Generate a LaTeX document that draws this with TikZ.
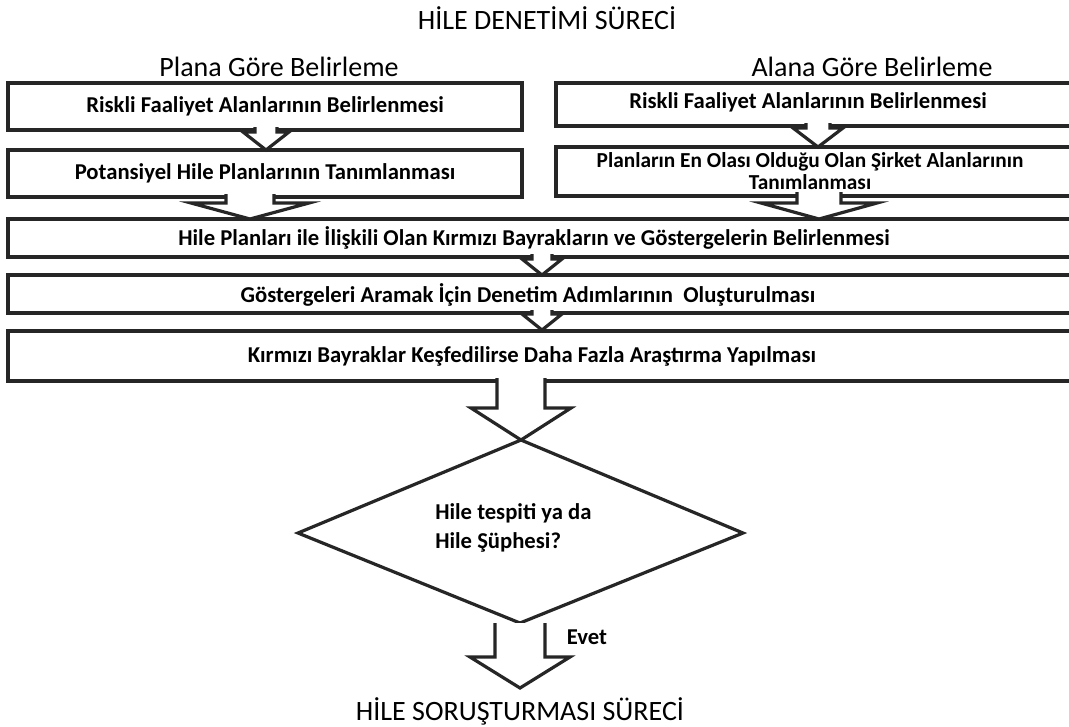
\documentclass[tikz,border=0pt]{standalone}
\usepackage{fontspec}
\setmainfont{Carlito}
\usetikzlibrary{calc}
\definecolor{ln}{HTML}{262626}
\tikzset{
  box/.style={draw=ln, line width=2.4pt, fill=white, inner sep=0pt, align=center,
    font=\fontsize{17}{16.5}\selectfont\bfseries},
  arr/.style={draw=ln, line width=2.4pt, line join=miter},
  ttl/.style={inner sep=0pt, font=\fontsize{21}{24}\selectfont},
  sub/.style={inner sep=0pt, font=\fontsize{21}{24}\selectfont},
  btxt/.style={inner sep=0pt, font=\fontsize{17}{22}\selectfont\bfseries},
  twol/.style={inner sep=0pt, align=center, font=\fontsize{16}{16.8}\selectfont\bfseries},
}
% block arrow: cx, ytop, ybase, ytip, shaft half width, head half width
\newcommand\blockarr[6]{%
  \fill[white] (#1-#5,#2) -- (#1-#5,#3) -- (#1-#6,#3) -- (#1,#4) -- (#1+#6,#3) -- (#1+#5,#3) -- (#1+#5,#2) -- cycle;
  \draw[arr] (#1-#5,#2) -- (#1-#5,#3) -- (#1-#6,#3) -- (#1,#4) -- (#1+#6,#3) -- (#1+#5,#3) -- (#1+#5,#2);
}
\begin{document}
\begin{tikzpicture}[x=0.75pt,y=-0.75pt]
\useasboundingbox (0,0) rectangle (1069,726);
\clip (0,0) rectangle (1069,726);
\fill[white] (0,0) rectangle (1069,726);

\node[ttl] (title) at (547,18) {HİLE DENETİMİ SÜRECİ};
\node[sub] (pl) at (279,67) {Plana Göre Belirleme};
\node[sub] (al) at (872,67) {Alana Göre Belirleme};

% left column
\node[box, minimum width=385.5pt, minimum height=35.25pt] (lb1) at (265,106.5) {Riskli Faaliyet Alanlarının Belirlenmesi};
\node[box, minimum width=385.5pt, minimum height=35.25pt] (lb2) at (265,173.5) {Potansiyel Hile Planlarının Tanımlanması};
% right column
\node[box, minimum width=389.25pt, minimum height=32.25pt] (rb1) at (815.5,104.5) {};
\node[btxt] (rb1t) at (808,102) {Riskli Faaliyet Alanlarının Belirlenmesi};
\node[box, minimum width=389.25pt, minimum height=36.75pt] (rb2) at (815.5,171.5) {};
\node[twol] (rb2t) at (810,171) {Planların En Olası Olduğu Olan Şirket Alanlarının\\Tanımlanması};
% wide boxes
\node[box, minimum width=800.25pt, minimum height=28.5pt] (w1) at (541.5,238) {};
\node[btxt] (w1t) at (534,238) {Hile Planları ile İlişkili Olan Kırmızı Bayrakların ve Göstergelerin Belirlenmesi};
\node[box, minimum width=800.25pt, minimum height=28.5pt] (w2) at (541.5,294) {};
\node[btxt] (w2t) at (528,295) {Göstergeleri Aramak İçin Denetim Adımlarının\ \ Oluşturulması};
\node[box, minimum width=800.25pt, minimum height=37.5pt] (w3) at (541.5,356) {};
\node[btxt] (w3t) at (532,356) {Kırmızı Bayraklar Keşfedilirse Daha Fazla Araştırma Yapılması};

% connectors (block arrows)
\blockarr{266}{127}{132}{150}{11}{23}
\blockarr{818}{123}{128}{147}{12}{25}
\blockarr{250}{194}{203}{219}{24}{59}
\blockarr{819}{192}{203}{219}{22}{58}
\blockarr{542}{254}{259}{275}{10}{20}
\blockarr{542}{310}{314}{330}{10}{20}
\blockarr{521}{378}{408}{440}{24}{50}

% decision
\coordinate (dT) at (521,440);
\coordinate (dR) at (743,533);
\coordinate (dB) at (520,623);
\coordinate (dL) at (298,533);
\draw[arr] (dT) -- (dR) -- (dB) -- (dL) -- cycle;
\node[btxt, anchor=west, align=left] (q) at (435,528) {Hile tespiti ya da\\Hile Şüphesi?};

\blockarr{520}{623}{657}{688}{25}{50}
\node[btxt] (evet) at (587,637) {Evet};

\node[ttl] (end) at (520,711) {HİLE SORUŞTURMASI SÜRECİ};
\end{tikzpicture}
\end{document}
